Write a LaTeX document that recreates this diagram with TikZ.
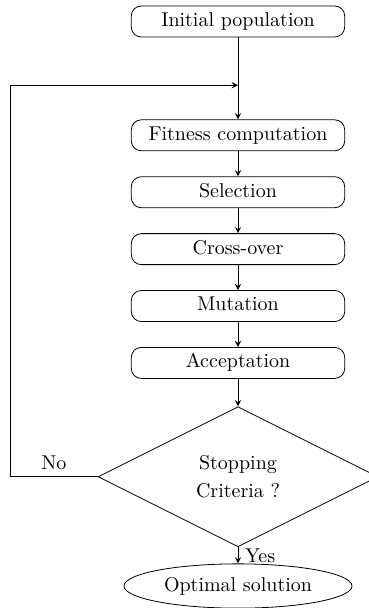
\documentclass[tikz,border=0pt]{standalone}
\usetikzlibrary{shapes.geometric}

\begin{document}
\begin{tikzpicture}[>= stealth,
    process/.style = {shape = rectangle, rounded corners = 5pt, draw,
        minimum width = 3.75cm, minimum height = 15pt,
        text height = 1.6ex, text depth = .45ex},
    decision/.style = {shape = diamond, draw, align = center, shape aspect = 2,
        minimum width = 140pt, minimum height = 70pt, inner sep = 0pt},
    terminal/.style = {shape = ellipse, draw}]
    \useasboundingbox (-119pt, 10.75pt) rectangle (65pt, -293.25pt);
        \node[process] (init) at (0, 0) {Initial population};
        \node[process] (fitness) at (0, -2) {Fitness computation};
        \node[process] (select) at (0, -3) {Selection};
        \node[process] (cross) at (0, -4) {Cross-over};
        \node[process] (mutate) at (0, -5) {Mutation};
        \node[process] (accept) at (0, -6) {Acceptation};
        \node[decision] (stop) at (0, -8) {Stopping\\[2pt] Criteria ?};
        \node[terminal] (optimal) at (0, -9.92) {Optimal solution};
        \coordinate (join) at (0, -1.12);
        \coordinate (back) at (-4, -8);
    \draw[->] (init) -- (fitness);
    \foreach \a/\b in {fitness/select, select/cross, cross/mutate, mutate/accept, accept/stop}
        \draw[->] (\a) -- (\b);
    \draw[->] (stop) -- node[right] {Yes} (optimal);
    \draw[->] (stop.west) -- node[above] {No} (back) |- (join);
\end{tikzpicture}
\end{document}
